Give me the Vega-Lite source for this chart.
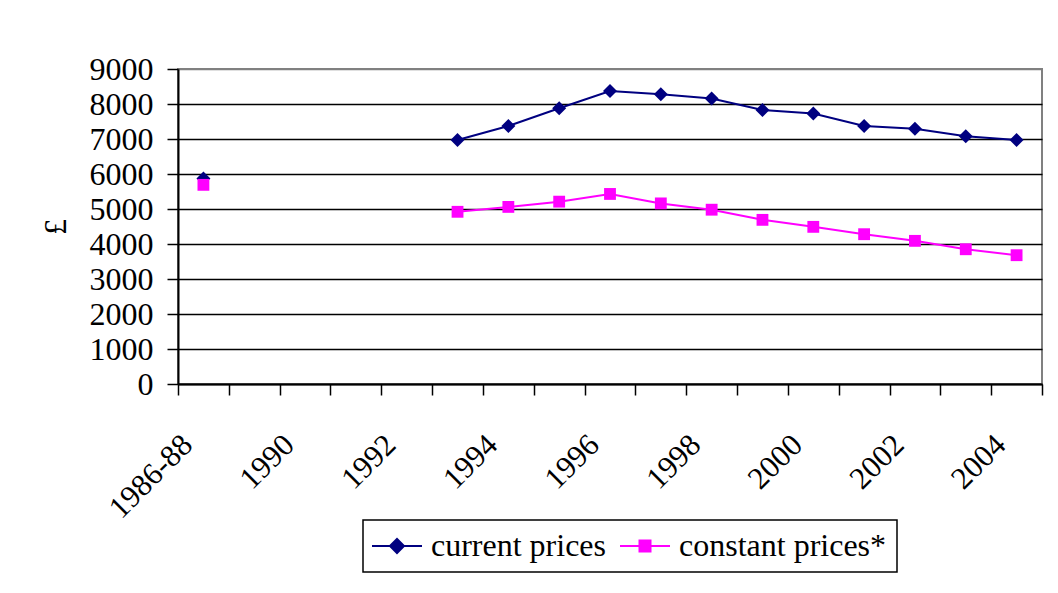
{
  "$schema": "https://vega.github.io/schema/vega-lite/v6.json",
  "width": 864,
  "height": 315,
  "autosize": {"type": "none"},
  "padding": {"left": 178, "top": 69, "right": 16, "bottom": 209},
  "background": "white",
  "config": {
    "font": "Liberation Serif",
    "view": {"stroke": "#808080", "strokeWidth": 2},
    "axis": {
      "labelFont": "Liberation Serif",
      "labelColor": "black",
      "titleFont": "Liberation Serif",
      "titleColor": "black",
      "domainColor": "black",
      "tickColor": "black"
    }
  },
  "data": {
    "values": [
      {"period": "1986-88", "series": "current prices", "value": 5870},
      {"period": "1989", "series": "current prices", "value": null},
      {"period": "1990", "series": "current prices", "value": null},
      {"period": "1991", "series": "current prices", "value": null},
      {"period": "1992", "series": "current prices", "value": null},
      {"period": "1993", "series": "current prices", "value": 6970},
      {"period": "1994", "series": "current prices", "value": 7370},
      {"period": "1995", "series": "current prices", "value": 7880},
      {"period": "1996", "series": "current prices", "value": 8370},
      {"period": "1997", "series": "current prices", "value": 8280},
      {"period": "1998", "series": "current prices", "value": 8160},
      {"period": "1999", "series": "current prices", "value": 7830},
      {"period": "2000", "series": "current prices", "value": 7730},
      {"period": "2001", "series": "current prices", "value": 7370},
      {"period": "2002", "series": "current prices", "value": 7290},
      {"period": "2003", "series": "current prices", "value": 7080},
      {"period": "2004", "series": "current prices", "value": 6970},
      {"period": "1986-88", "series": "constant prices*", "value": 5690},
      {"period": "1989", "series": "constant prices*", "value": null},
      {"period": "1990", "series": "constant prices*", "value": null},
      {"period": "1991", "series": "constant prices*", "value": null},
      {"period": "1992", "series": "constant prices*", "value": null},
      {"period": "1993", "series": "constant prices*", "value": 4920},
      {"period": "1994", "series": "constant prices*", "value": 5060},
      {"period": "1995", "series": "constant prices*", "value": 5210},
      {"period": "1996", "series": "constant prices*", "value": 5430},
      {"period": "1997", "series": "constant prices*", "value": 5160},
      {"period": "1998", "series": "constant prices*", "value": 4980},
      {"period": "1999", "series": "constant prices*", "value": 4690},
      {"period": "2000", "series": "constant prices*", "value": 4490},
      {"period": "2001", "series": "constant prices*", "value": 4280},
      {"period": "2002", "series": "constant prices*", "value": 4090},
      {"period": "2003", "series": "constant prices*", "value": 3850},
      {"period": "2004", "series": "constant prices*", "value": 3680}
    ]
  },
  "encoding": {
    "x": {
      "field": "period",
      "type": "ordinal",
      "scale": {
        "type": "band",
        "domain": ["1986-88", "1989", "1990", "1991", "1992", "1993", "1994", "1995", "1996", "1997", "1998", "1999", "2000", "2001", "2002", "2003", "2004"],
        "paddingInner": 0,
        "paddingOuter": 0
      },
      "axis": {
        "title": null,
        "tickBand": "extent",
        "tickSize": 11,
        "tickWidth": 1.5,
        "domainWidth": 2,
        "labelAngle": -45,
        "labelAlign": "right",
        "labelBaseline": "middle",
        "labelFontSize": 31,
        "labelPadding": 45,
        "labelOffset": -16,
        "labelOverlap": false,
        "labelExpr": "indexof(['1986-88','1990','1992','1994','1996','1998','2000','2002','2004'], datum.label) >= 0 ? datum.label : ''"
      }
    },
    "y": {
      "field": "value",
      "type": "quantitative",
      "scale": {"domain": [0, 9000]},
      "axis": {
        "title": "£",
        "titleFontSize": 32,
        "titleFontWeight": "normal",
        "titlePadding": 17,
        "format": "d",
        "values": [0, 1000, 2000, 3000, 4000, 5000, 6000, 7000, 8000, 9000],
        "grid": true,
        "gridColor": {"condition": {"test": "datum.value == 9000", "value": "#808080"}, "value": "black"},
        "gridWidth": 1.5,
        "gridOpacity": 1,
        "tickSize": 11,
        "tickWidth": 1.5,
        "domainWidth": 2,
        "labelFontSize": 32,
        "labelPadding": 14
      }
    },
    "color": {
      "field": "series",
      "type": "nominal",
      "scale": {"domain": ["current prices", "constant prices*"], "range": ["#000080", "#FF00FF"]},
      "legend": {
        "title": null,
        "orient": "none",
        "legendX": 185,
        "legendY": 451,
        "direction": "horizontal",
        "columns": 2,
        "strokeColor": "black",
        "fillColor": "white",
        "padding": 10,
        "columnPadding": 9,
        "labelFont": "Liberation Serif",
        "labelFontSize": 32,
        "labelColor": "black",
        "labelLimit": 400,
        "symbolSize": 400,
        "symbolStrokeWidth": 2,
        "symbolOffset": 8,
        "labelOffset": 18,
        "encode": {
          "legend": {"update": {"strokeWidth": {"value": 1.5}}},
          "symbols": {
            "update": {
              "shape": {"signal": "datum.value === 'current prices' ? 'M-2.5,0L2.5,0M-0.7,0L0,-0.7L0.7,0L0,0.7Z' : 'M-2.5,0L2.5,0M-0.55,-0.55L0.55,-0.55L0.55,0.55L-0.55,0.55Z'"},
              "size": {"value": 400},
              "fill": {"signal": "datum.value === 'current prices' ? '#000080' : '#FF00FF'"},
              "stroke": {"signal": "datum.value === 'current prices' ? '#000080' : '#FF00FF'"},
              "strokeWidth": {"value": 2},
              "strokeOpacity": {"value": 1},
              "fillOpacity": {"value": 1},
              "opacity": {"value": 1}
            }
          }
        }
      }
    }
  },
  "layer": [
    {"mark": {"type": "line", "strokeWidth": 2}},
    {
      "mark": {"type": "point", "filled": true, "opacity": 1},
      "encoding": {
        "shape": {"condition": {"test": "datum.series === 'current prices'", "value": "diamond"}, "value": "square"},
        "size": {"condition": {"test": "datum.series === 'current prices'", "value": 196}, "value": 140}
      }
    }
  ]
}
